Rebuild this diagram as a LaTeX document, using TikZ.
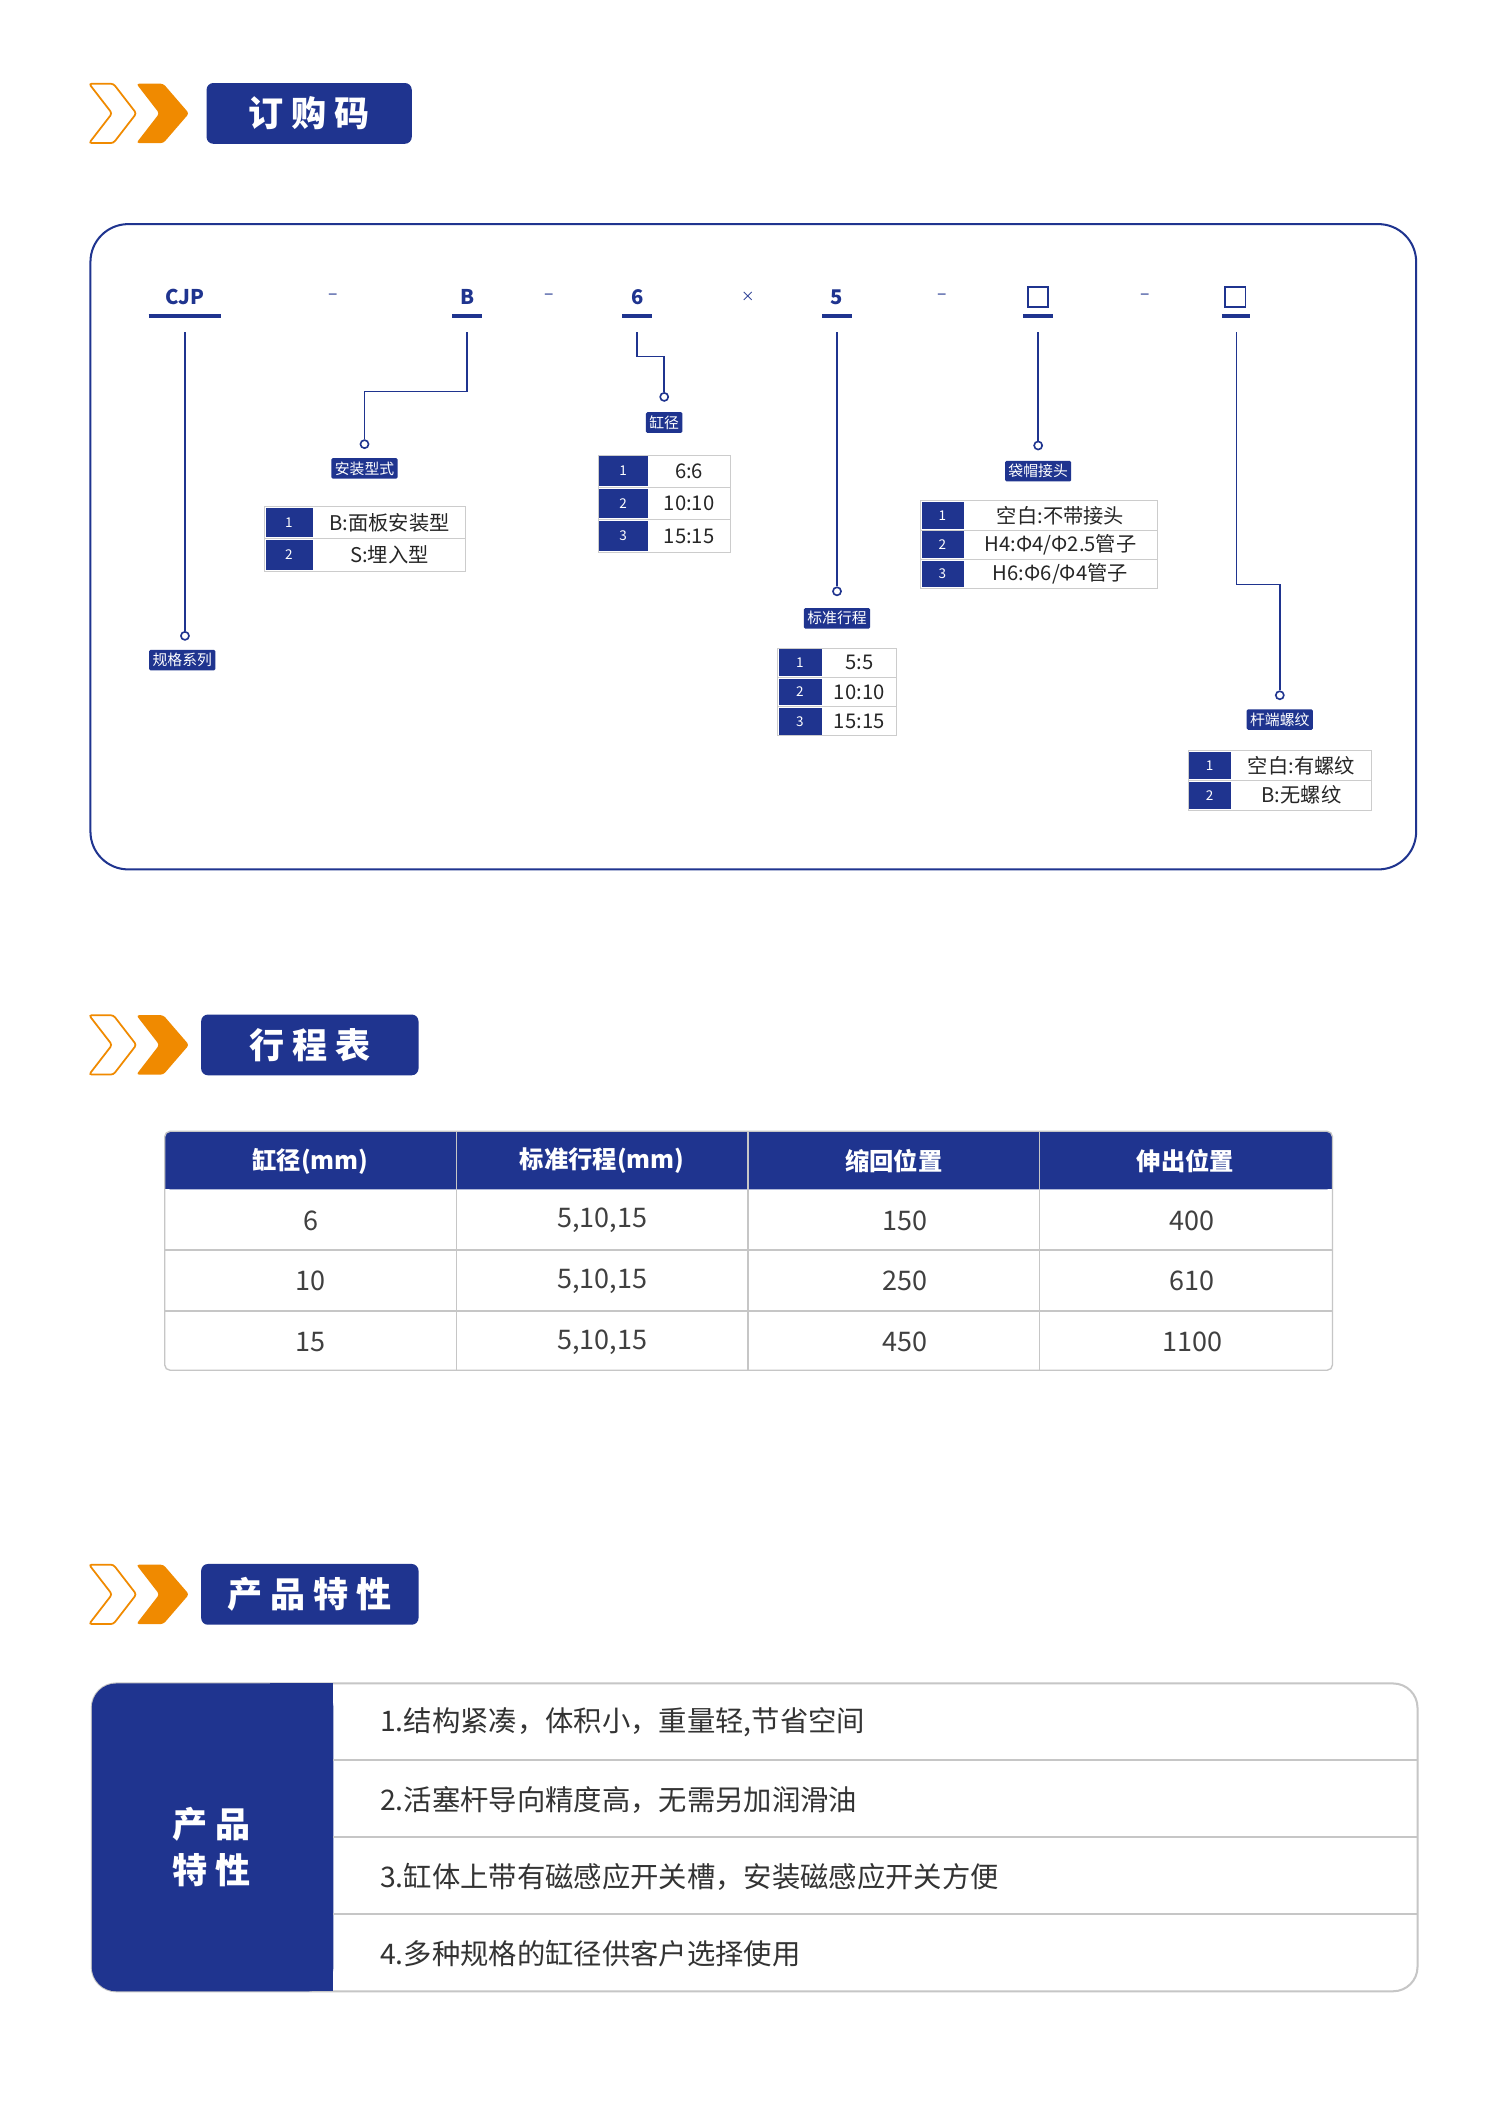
\documentclass[tikz,border=0pt]{standalone}
\usepackage{fontspec}
\setmainfont{Noto Sans CJK SC}
\begin{document}
\begin{tikzpicture}[x=1pt,y=-1pt,
  lbl/.style={fill=nv,text=white,font=\fontsize{11}{12}\selectfont,inner sep=2.5pt,rounded corners=1pt},
  hdr/.style={fill=nv,rounded corners=5pt,text=white,font=\fontsize{26}{28}\selectfont\bfseries},
  code/.style={text=nv,font=\fontsize{15}{16}\selectfont\bfseries},
  sepsym/.style={text=nv,font=\fontsize{13}{14}\selectfont},
  cell/.style={draw=gray!40,line width=0.6pt},
  ln/.style={draw=nv,line width=1.3pt},
  dot/.style={circle,draw=nv,line width=1.2pt,fill=white,inner sep=0pt,minimum size=6pt}]
\definecolor{nv}{HTML}{1F348F}
\definecolor{org}{HTML}{F08A00}
\useasboundingbox (0,0) rectangle (1111,1560);
\fill[white] (0,0) rectangle (1111,1560);
\newcommand{\myheader}[5]{%
  \draw[org,line width=1.3pt,rounded corners=2pt] (66,#1)--(84,#1)--(101,#1+22)--(84,#1+44)--(66,#1+44)--(83,#1+22)--cycle;
  \fill[org,rounded corners=2pt] (101,#1)--(121,#1)--(140,#1+22)--(121,#1+44)--(101,#1+44)--(118,#1+22)--cycle;
  \node[hdr,minimum width=#3-#2,minimum height=45pt] (#5) at ({(#2+#3)/2},#1+22) {#4};}
\myheader{62}{153}{305}{订 购 码}{h1}
\myheader{752}{149}{310}{行 程 表}{h2}
\myheader{1159}{149}{310}{产 品 特 性}{h3}
\draw[nv,line width=1.5pt,rounded corners=28pt] (67,166) rectangle (1049,644);
\node[code] (c1) at (137,220) {CJP};
\node[sepsym] at (247,220) {–};
\node[code] (c2) at (346,220) {B};
\node[sepsym] at (407,220) {–};
\node[code] (c3) at (472,220) {6};
\node[sepsym,font=\fontsize{10}{10}\selectfont] at (554,220) {×};
\node[code] (c4) at (620,220) {5};
\node[sepsym] at (698,220) {–};
\node[draw=nv,line width=1.3pt,minimum size=15pt,inner sep=0pt] (c5) at (769,220) {};
\node[sepsym] at (848,220) {–};
\node[draw=nv,line width=1.3pt,minimum size=15pt,inner sep=0pt] (c6) at (915,220) {};
\foreach \a/\b in {110/164,335/357,461/483,609/631,758/780,905/926}
  \draw[nv,line width=3pt] (\a,234)--(\b,234);
\node[dot] (d1) at (137,471) {};
\node[dot] (d2) at (270,329) {};
\node[dot] (d3) at (492,294) {};
\node[dot] (d4) at (620,438) {};
\node[dot] (d5) at (769,330) {};
\node[dot] (d6) at (948,515) {};
\draw[ln] (137,246)--(d1);
\draw[ln] (346,246)--(346,290)--(270,290)--(d2);
\draw[ln] (472,246)--(472,264)--(492,264)--(d3);
\draw[ln] (620,246)--(d4);
\draw[ln] (769,246)--(d5);
\draw[ln] (916,246)--(916,433)--(948,433)--(d6);
\node[lbl] at (135,489) {规格系列};
\node[lbl] at (270,347) {安装型式};
\node[lbl] at (492,313) {缸径};
\node[lbl] at (620,458) {标准行程};
\node[lbl] at (769,349) {袋帽接头};
\node[lbl] at (948,533) {杆端螺纹};
\newcommand{\opt}[6]{%
  \foreach \t [count=\i] in {#6}{%
    \pgfmathsetmacro\ya{#4+(\i-1)*#5}\pgfmathsetmacro\yb{#4+\i*#5}
    \draw[cell] (#1,\ya) rectangle (#3,\yb);
    \fill[nv] (#1+1,\ya+1) rectangle (#2,\yb-1);
    \node[text=white,font=\fontsize{10}{10}\selectfont] at ({(#1+#2)/2},{(\ya+\yb)/2}) {\i};
    \node[font=\fontsize{15}{16}\selectfont,text=black!85] at ({(#2+#3)/2},{(\ya+\yb)/2}) {\t};}}
\opt{196}{232}{345}{375}{24}{B:面板安装型,S:埋入型}
\opt{443}{480}{541}{337}{24}{6:6,10:10,15:15}
\opt{576}{609}{664}{480}{21.7}{5:5,10:10,15:15}
\opt{682}{714}{857}{371}{21.7}{空白:不带接头,H4:Φ4/Φ2.5管子,H6:Φ6/Φ4管子}
\opt{880}{912}{1016}{556}{22}{空白:有螺纹,B:无螺纹}
\fill[nv,rounded corners=4pt] (122,838) rectangle (987,881);
\fill[nv] (122,860) rectangle (987,881);
\draw[gray!45,line width=1pt,rounded corners=4pt] (122,838) rectangle (987,1015);
\foreach \y in {926,971} \draw[gray!45,line width=1pt] (122,\y)--(987,\y);
\foreach \x in {338,554,770} \draw[gray!45,line width=1pt] (\x,838)--(\x,1015);
\foreach \t [count=\i] in {缸径(mm),标准行程(mm),缩回位置,伸出位置}
  \node[text=white,font=\fontsize{18}{18}\selectfont\bfseries] at (122+216*\i-108,860) {\t};
\foreach \a/\b/\c/\d [count=\r] in {6/{5,10,15}/150/400,10/{5,10,15}/250/610,15/{5,10,15}/450/1100}{
  \pgfmathsetmacro\yy{881+45*\r-22}
  \node[font=\fontsize{20}{20}\selectfont,text=black!75] at (230,\yy) {\a};
  \node[font=\fontsize{20}{20}\selectfont,text=black!75] at (446,\yy) {\b};
  \node[font=\fontsize{20}{20}\selectfont,text=black!75] at (670,\yy) {\c};
  \node[font=\fontsize{20}{20}\selectfont,text=black!75] at (883,\yy) {\d};}
\draw[gray!45,line width=1.5pt,rounded corners=18pt] (68,1247) rectangle (1050,1475);
\fill[nv,rounded corners=18pt] (68,1247) rectangle (247,1475);
\fill[nv] (200,1247) rectangle (247,1475);
\foreach \y in {1304,1361,1418} \draw[gray!45,line width=1.5pt] (247,\y)--(1050,\y);
\node[text=white,font=\fontsize{26}{34}\selectfont\bfseries,align=center] (fp) at (157,1368) {产 品\\特 性};
\foreach \t [count=\i] in {{1.结构紧凑，体积小，重量轻,节省空间},2.活塞杆导向精度高，无需另加润滑油,3.缸体上带有磁感应开关槽，安装磁感应开关方便,4.多种规格的缸径供客户选择使用}
  \node[anchor=west,font=\fontsize{21}{22}\selectfont,text=black!80] at (278,1247+57*\i-28) {\t};
\end{tikzpicture}
\end{document}
